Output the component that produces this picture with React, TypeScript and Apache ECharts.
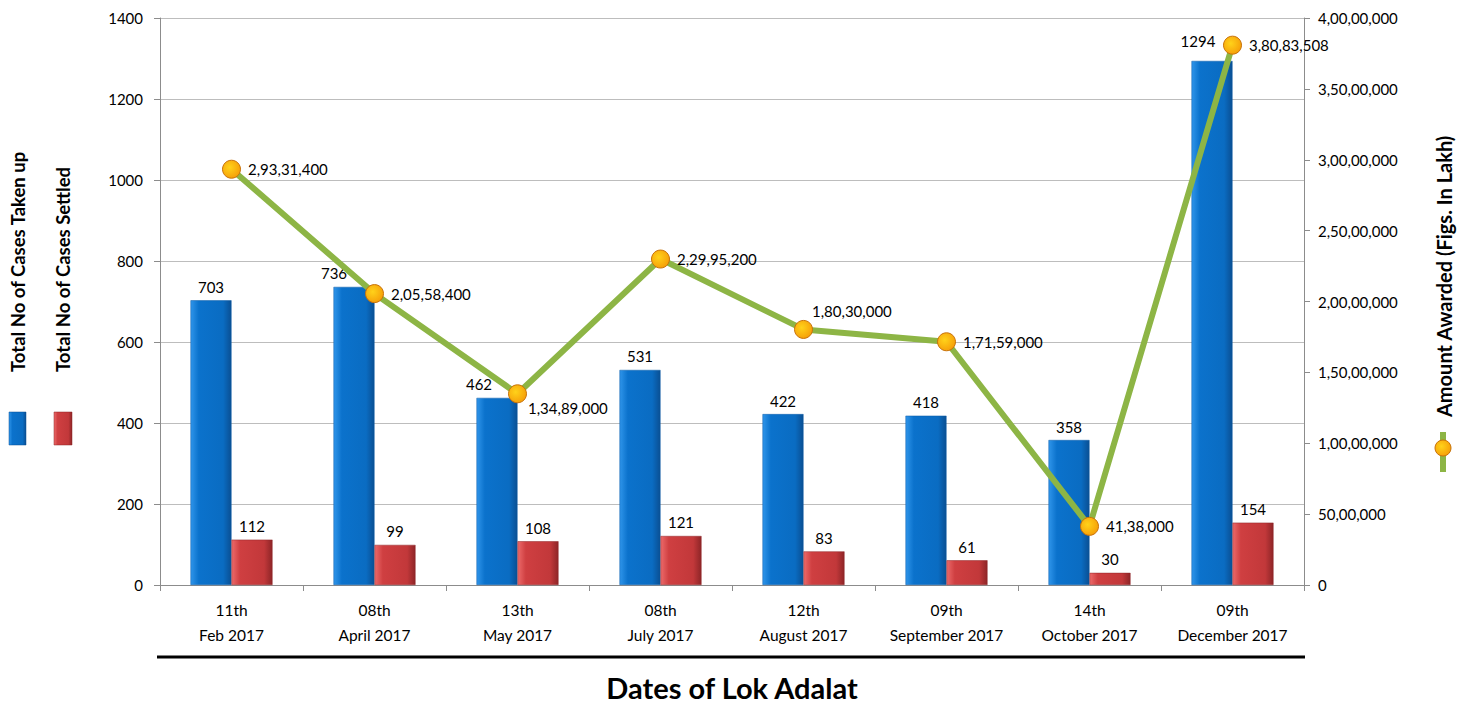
import React, { useEffect, useRef } from "react";
import * as echarts from "echarts";

const categories = [
  "11th\nFeb 2017",
  "08th\nApril 2017",
  "13th\nMay 2017",
  "08th\nJuly 2017",
  "12th\nAugust 2017",
  "09th\nSeptember 2017",
  "14th\nOctober 2017",
  "09th\nDecember 2017",
];
const casesTakenUp = [703, 736, 462, 531, 422, 418, 358, 1294];
const casesSettled = [112, 99, 108, 121, 83, 61, 30, 154];
const amountAwarded = [29331400, 20558400, 13489000, 22995200, 18030000, 17159000, 4138000, 38083508];

const FONT = "Lato, 'Open Sans', sans-serif";

function indian(n: number): string {
  const s = String(Math.round(n));
  if (s.length <= 3) return s;
  const last3 = s.slice(-3);
  let rest = s.slice(0, -3);
  const parts: string[] = [];
  while (rest.length > 2) {
    parts.unshift(rest.slice(-2));
    rest = rest.slice(0, -2);
  }
  if (rest.length) parts.unshift(rest);
  return parts.join(",") + "," + last3;
}

const blueGrad = new echarts.graphic.LinearGradient(0, 0, 1, 0, [
  { offset: 0, color: "#2f95ea" },
  { offset: 0.2, color: "#0b72cc" },
  { offset: 0.8, color: "#0a6cc2" },
  { offset: 1, color: "#0a4f93" },
]);
const redGrad = new echarts.graphic.LinearGradient(0, 0, 1, 0, [
  { offset: 0, color: "#ec6a6a" },
  { offset: 0.2, color: "#cf3f41" },
  { offset: 0.8, color: "#c2383a" },
  { offset: 1, color: "#8e2527" },
]);
const markerGrad = new echarts.graphic.RadialGradient(0.4, 0.4, 0.7, [
  { offset: 0, color: "#ffd21a" },
  { offset: 1, color: "#f59a06" },
]);

const blueLabelOffsets: Record<number, number[]> = { 1: [-20, 0], 2: [-18, 0], 7: [-14, -6] };
const lineLabelOffsets: Record<number, number[]> = { 2: [-6, 14], 4: [-8, -18] };

export default function App() {
  const ref = useRef<HTMLDivElement>(null);
  useEffect(() => {
    if (!ref.current) return;
    const chart = echarts.init(ref.current, undefined, { renderer: "svg" });
    chart.setOption({
      animation: false,
      textStyle: { fontFamily: FONT },
      grid: { left: 160, right: 166, top: 18, bottom: 120 },
      xAxis: {
        type: "category",
        data: categories,
        axisLine: { show: true, lineStyle: { color: "#8c8c8c", width: 1 } },
        axisTick: { show: true, length: 6, lineStyle: { color: "#8c8c8c" } },
        axisLabel: { color: "#000", fontSize: 15.5, lineHeight: 25, margin: 12, fontFamily: FONT, interval: 0 },
      },
      yAxis: [
        {
          type: "value",
          min: 0,
          max: 1400,
          interval: 200,
          axisLine: { show: true, lineStyle: { color: "#8c8c8c" } },
          axisTick: { show: true, length: 6, lineStyle: { color: "#8c8c8c" } },
          axisLabel: { color: "#000", fontSize: 15, margin: 17, fontFamily: FONT, formatter: (v: number) => String(v) },
          splitLine: { lineStyle: { color: "#bdbdbd", width: 1 } },
        },
        {
          type: "value",
          min: 0,
          max: 40000000,
          interval: 5000000,
          position: "right",
          axisLine: { show: true, lineStyle: { color: "#8c8c8c" } },
          axisTick: { show: true, length: 6, lineStyle: { color: "#8c8c8c" } },
          axisLabel: { color: "#000", fontSize: 15, margin: 14, fontFamily: FONT, formatter: (v: number) => indian(v) },
          splitLine: { show: false },
        },
      ],
      series: [
        {
          name: "Total No of Cases Taken up",
          type: "bar",
          barWidth: 41,
          barGap: "0%",
          data: casesTakenUp.map((v, i) => ({
            value: v,
            label: blueLabelOffsets[i] ? { offset: blueLabelOffsets[i] } : undefined,
          })),
          itemStyle: { color: blueGrad, borderColor: "#0a5aa6", borderWidth: 0.5 },
          label: { show: true, position: "top", color: "#000", fontSize: 15, distance: 6, fontFamily: FONT },
        },
        {
          name: "Total No of Cases Settled",
          type: "bar",
          barWidth: 41,
          barGap: "0%",
          data: casesSettled,
          itemStyle: { color: redGrad, borderColor: "#8e2527", borderWidth: 0.5 },
          label: { show: true, position: "top", color: "#000", fontSize: 15, distance: 6, fontFamily: FONT },
        },
        {
          name: "Amount Awarded (Figs. In Lakh)",
          type: "line",
          yAxisIndex: 1,
          data: amountAwarded.map((v, i) => ({
            value: v,
            label: lineLabelOffsets[i] ? { offset: lineLabelOffsets[i] } : undefined,
          })),
          lineStyle: { color: "#8db545", width: 6 },
          symbol: "circle",
          symbolSize: 18,
          itemStyle: { color: markerGrad, borderColor: "#c8720a", borderWidth: 1 },
          label: {
            show: true,
            position: "right",
            distance: 7,
            color: "#000",
            fontSize: 15,
            fontFamily: FONT,
            formatter: (p: any) => indian(p.value),
          },
          z: 5,
        },
      ],
      graphic: [
        {
          type: "text",
          x: 18,
          y: 372,
          rotation: Math.PI / 2,
          style: { text: "Total No of Cases Taken up", font: `bold 18.5px ${FONT}`, fill: "#000", textAlign: "left", textVerticalAlign: "middle" },
        },
        {
          type: "text",
          x: 63,
          y: 372,
          rotation: Math.PI / 2,
          style: { text: "Total No of Cases Settled", font: `bold 18.5px ${FONT}`, fill: "#000", textAlign: "left", textVerticalAlign: "middle" },
        },
        {
          type: "rect",
          shape: { x: 9, y: 412, width: 17, height: 33 },
          style: { fill: blueGrad, stroke: "#0a4f93", lineWidth: 0.5 },
        },
        {
          type: "rect",
          shape: { x: 54, y: 412, width: 18, height: 33 },
          style: { fill: redGrad, stroke: "#8e2527", lineWidth: 0.5 },
        },
        {
          type: "text",
          x: 1444,
          y: 417,
          rotation: Math.PI / 2,
          style: { text: "Amount Awarded (Figs. In Lakh)", font: `bold 20px ${FONT}`, fill: "#000", textAlign: "left", textVerticalAlign: "middle" },
        },
        {
          type: "line",
          shape: { x1: 1443, y1: 432, x2: 1443, y2: 472 },
          style: { stroke: "#8db545", lineWidth: 6 },
        },
        {
          type: "circle",
          shape: { cx: 1443, cy: 448, r: 8 },
          style: { fill: markerGrad, stroke: "#c8720a", lineWidth: 1 },
        },
        {
          type: "line",
          shape: { x1: 157, y1: 657, x2: 1305, y2: 657 },
          style: { stroke: "#000", lineWidth: 3 },
        },
        {
          type: "text",
          x: 732,
          y: 687,
          style: { text: "Dates of Lok Adalat", font: `bold 29px ${FONT}`, fill: "#000", textAlign: "center", textVerticalAlign: "middle" },
        },
      ],
    });
    return () => chart.dispose();
  }, []);
  return <div ref={ref} style={{ position: "fixed", left: 0, top: 0, width: 1470, height: 705, background: "#fff" }} />;
}
